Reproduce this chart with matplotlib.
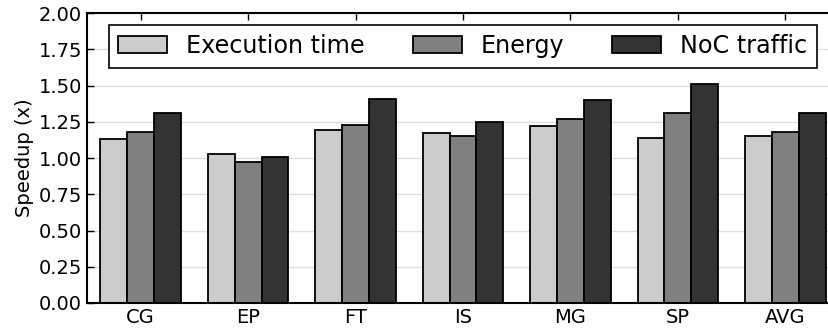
import numpy as np
import matplotlib
matplotlib.use("Agg")
import matplotlib.pyplot as plt

benchmarks = ["CG", "EP", "FT", "IS", "MG", "SP", "AVG"]
exec_time = [1.13, 1.03, 1.19, 1.17, 1.22, 1.14, 1.15]
energy = [1.18, 0.97, 1.23, 1.15, 1.27, 1.31, 1.18]
noc_traffic = [1.31, 1.01, 1.41, 1.25, 1.40, 1.51, 1.31]
yticks = [0.0, 0.25, 0.5, 0.75, 1.0, 1.25, 1.5, 1.75, 2.0]

fig = plt.figure(figsize=(8.29, 3.29), dpi=100)
ax = fig.add_axes([87 / 829, 26 / 329, 752 / 829, 290 / 329])

x = np.arange(len(benchmarks))
w = 0.25
ax.bar(x - w, exec_time, w, color="#cccccc", edgecolor="black", linewidth=1.3, label="Execution time")
ax.bar(x, energy, w, color="#808080", edgecolor="black", linewidth=1.3, label="Energy")
ax.bar(x + w, noc_traffic, w, color="#333333", edgecolor="black", linewidth=1.3, label="NoC traffic")

ax.set_xlim(-0.5, len(benchmarks) - 0.5)
ax.set_ylim(0, 2.0)
ax.set_yticks(yticks)
ax.set_yticklabels(["%.2f" % v for v in yticks])
ax.set_xticks(x)
ax.set_xticklabels(benchmarks)
ax.tick_params(direction="in", top=True, right=True, labelsize=14, length=5, width=1)
ax.set_ylabel("Speedup (x)", fontsize=14, labelpad=3)
ax.yaxis.grid(True, color="#dddddd", linewidth=1)
ax.set_axisbelow(True)
for s in ax.spines.values():
    s.set_linewidth(1.5)

leg = ax.legend(loc="upper center", bbox_to_anchor=(0.5, 0.96), ncol=3, fontsize=17.2,
                fancybox=False, framealpha=1, edgecolor="black", borderaxespad=0,
                handleheight=0.7, handlelength=2.05)
leg.get_frame().set_linewidth(1.2)

fig.savefig("out.png", dpi=100)
